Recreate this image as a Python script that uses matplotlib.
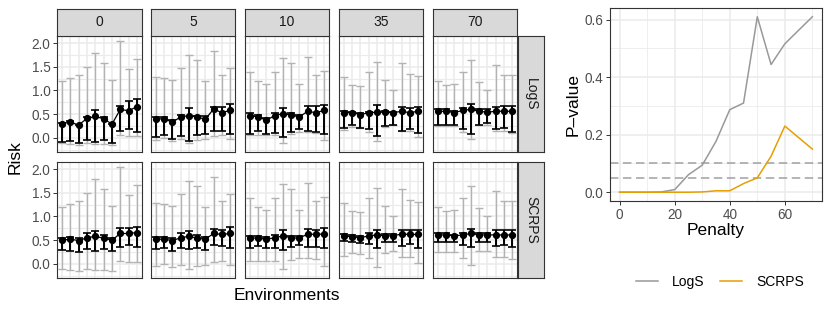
import numpy as np
import matplotlib
matplotlib.use("Agg")
import matplotlib.pyplot as plt
from matplotlib.lines import Line2D

plt.rcParams['font.family'] = ['Liberation Sans', 'DejaVu Sans']

# --- data ---
penalties = ["0", "5", "10", "35", "70"]
scores = ["LogS", "SCRPS"]
envs = np.arange(1, 11)

# LogS row: risk estimate and interval per penalty (10 environments each)
logs_mid = [
    [0.30, 0.33, 0.27, 0.41, 0.45, 0.40, 0.29, 0.60, 0.57, 0.66],
    [0.40, 0.40, 0.33, 0.44, 0.47, 0.44, 0.39, 0.61, 0.53, 0.58],
    [0.47, 0.44, 0.37, 0.47, 0.51, 0.48, 0.44, 0.56, 0.53, 0.58],
    [0.53, 0.53, 0.49, 0.53, 0.54, 0.54, 0.53, 0.56, 0.53, 0.56],
    [0.56, 0.56, 0.53, 0.58, 0.60, 0.56, 0.54, 0.56, 0.56, 0.56],
]
logs_hi = [
    [0.32, 0.35, 0.28, 0.44, 0.58, 0.44, 0.30, 0.68, 0.77, 0.82],
    [0.44, 0.44, 0.37, 0.49, 0.63, 0.47, 0.46, 0.65, 0.65, 0.72],
    [0.53, 0.49, 0.42, 0.53, 0.63, 0.53, 0.49, 0.67, 0.68, 0.70],
    [0.56, 0.54, 0.53, 0.54, 0.70, 0.56, 0.54, 0.65, 0.63, 0.65],
    [0.60, 0.60, 0.56, 0.63, 0.72, 0.60, 0.60, 0.65, 0.68, 0.67],
]
logs_lo = [
    [-0.08, -0.07, -0.12, -0.04, -0.08, -0.05, -0.11, 0.15, 0.18, 0.12],
    [0.01, 0.05, -0.02, 0.04, -0.06, 0.05, 0.07, 0.14, 0.14, 0.07],
    [0.07, 0.14, 0.07, 0.11, 0.02, 0.12, 0.18, 0.14, 0.12, 0.07],
    [0.21, 0.26, 0.21, 0.19, 0.04, 0.25, 0.28, 0.15, 0.18, 0.11],
    [0.26, 0.28, 0.26, 0.18, 0.07, 0.26, 0.32, 0.19, 0.21, 0.12],
]

# SCRPS row
scrps_mid = [
    [0.50, 0.52, 0.49, 0.55, 0.58, 0.54, 0.50, 0.64, 0.64, 0.66],
    [0.52, 0.52, 0.49, 0.55, 0.58, 0.54, 0.52, 0.64, 0.62, 0.64],
    [0.55, 0.54, 0.52, 0.55, 0.59, 0.55, 0.54, 0.63, 0.62, 0.63],
    [0.59, 0.57, 0.55, 0.59, 0.61, 0.59, 0.59, 0.63, 0.62, 0.62],
    [0.61, 0.61, 0.59, 0.61, 0.64, 0.61, 0.61, 0.61, 0.61, 0.61],
]
scrps_hi = [
    [0.54, 0.56, 0.54, 0.64, 0.69, 0.61, 0.54, 0.75, 0.76, 0.78],
    [0.56, 0.56, 0.54, 0.64, 0.70, 0.61, 0.56, 0.73, 0.72, 0.78],
    [0.59, 0.59, 0.56, 0.61, 0.71, 0.59, 0.59, 0.73, 0.71, 0.76],
    [0.63, 0.61, 0.59, 0.64, 0.72, 0.62, 0.62, 0.71, 0.71, 0.71],
    [0.64, 0.64, 0.61, 0.64, 0.73, 0.64, 0.66, 0.71, 0.71, 0.71],
]
scrps_lo = [
    [0.29, 0.28, 0.24, 0.31, 0.28, 0.31, 0.26, 0.36, 0.40, 0.36],
    [0.31, 0.33, 0.28, 0.33, 0.31, 0.33, 0.29, 0.40, 0.38, 0.33],
    [0.33, 0.38, 0.33, 0.34, 0.29, 0.35, 0.40, 0.36, 0.36, 0.34],
    [0.49, 0.47, 0.43, 0.41, 0.34, 0.45, 0.47, 0.38, 0.41, 0.34],
    [0.45, 0.45, 0.45, 0.40, 0.35, 0.45, 0.47, 0.38, 0.40, 0.35],
]

# wide grey interval (same in both rows)
wide_hi = [
    [1.21, 1.26, 1.33, 1.49, 1.80, 1.59, 1.23, 2.05, 1.46, 1.66],
    [1.29, 1.26, 1.22, 1.47, 1.75, 1.65, 1.20, 1.84, 1.33, 1.47],
    [1.39, 1.21, 1.14, 1.40, 1.68, 1.58, 1.14, 1.70, 1.32, 1.42],
    [1.28, 1.12, 1.09, 1.39, 1.61, 1.23, 1.02, 1.58, 1.35, 1.30],
    [1.21, 1.12, 1.14, 1.39, 1.65, 1.17, 1.02, 1.53, 1.33, 1.32],
]
wide_lo = [
    [-0.12, -0.14, -0.16, -0.11, -0.14, -0.13, -0.16, 0.05, 0.04, 0.03],
    [-0.05, 0.00, -0.06, -0.02, -0.10, -0.05, -0.02, 0.04, 0.05, -0.02],
    [0.05, 0.05, 0.05, 0.05, -0.12, 0.09, 0.12, 0.12, 0.11, -0.04],
    [0.16, 0.23, 0.21, 0.12, -0.07, 0.23, 0.26, 0.15, 0.15, 0.01],
    [0.25, 0.25, 0.25, 0.12, -0.02, 0.26, 0.26, 0.15, 0.14, 0.11],
]

# p-value vs penalty
penalty = [0, 5, 10, 15, 20, 25, 30, 35, 40, 45, 50, 55, 60, 65, 70]
pval_logs = [0, 0, 0, 0.001, 0.009, 0.061, 0.094, 0.177, 0.287, 0.31, 0.61, 0.444, 0.516, 0.563, 0.61]
pval_scrps = [0, 0, 0, 0, 0, 0, 0.001, 0.005, 0.005, 0.03, 0.05, 0.125, 0.23, 0.19, 0.15]

W, H = 830, 312
fig = plt.figure(figsize=(W / 100, H / 100), dpi=100)


def px_axes(x0, y0, x1, y1):
    return fig.add_axes([x0 / W, 1 - y1 / H, (x1 - x0) / W, (y1 - y0) / H])


GRID = "#EBEBEB"
BORDER = "#333333"
TICK_COL = "#4D4D4D"
STRIP_FILL = "#D9D9D9"
TICK_FS = 9.8
STRIP_FS = 10
TITLE_FS = 12.5


def style_panel(ax):
    for s in ax.spines.values():
        s.set_color(BORDER)
        s.set_linewidth(0.8)
    ax.set_axisbelow(True)
    ax.tick_params(colors=BORDER, labelcolor=TICK_COL, labelsize=TICK_FS, length=2.7, width=0.7, pad=2)


col_x = [(57, 142), (151, 235), (245, 329), (339, 423), (433, 517)]
row_y = [(36, 152), (162, 278)]
rows = [(logs_mid, logs_lo, logs_hi), (scrps_mid, scrps_lo, scrps_hi)]

for r, (mid, lo, hi) in enumerate(rows):
    for c in range(len(penalties)):
        ax = px_axes(col_x[c][0], row_y[r][0], col_x[c][1], row_y[r][1])
        style_panel(ax)
        ax.set_xlim(0.4, 10.6)
        ax.set_ylim(-0.3, 2.15)
        ax.set_yticks([0, 0.5, 1.0, 1.5, 2.0])
        ax.set_yticks([-0.25, 0.25, 0.75, 1.25, 1.75], minor=True)
        ax.set_xticks(envs)
        ax.grid(which="major", color=GRID, linewidth=1.1)
        ax.grid(which="minor", axis="y", color=GRID, linewidth=0.8)
        ax.tick_params(axis="x", which="both", length=0, labelbottom=False)
        ax.tick_params(axis="y", which="minor", length=0)
        if c == 0:
            ax.set_yticklabels(["0.0", "0.5", "1.0", "1.5", "2.0"])
        else:
            ax.tick_params(axis="y", length=0, labelleft=False)

        wl = np.array(wide_lo[c]); wh = np.array(wide_hi[c])
        m = np.array(mid[c]); l = np.array(lo[c]); h = np.array(hi[c])
        wc = (wl + wh) / 2
        ax.errorbar(envs, wc, yerr=[wc - wl, wh - wc], fmt="none", ecolor="#B3B3B3",
                    elinewidth=1.0, capsize=3.2, capthick=1.0, zorder=2)
        ax.plot(envs, m, color="black", linewidth=0.9, zorder=3)
        ax.errorbar(envs, m, yerr=[m - l, h - m], fmt="o", color="black", ecolor="black",
                    markersize=4.2, elinewidth=1.4, capsize=3.2, capthick=1.2, zorder=4)

        if r == 0:
            sax = px_axes(col_x[c][0], 9, col_x[c][1], 36)
            sax.set_facecolor(STRIP_FILL)
            sax.set_xticks([]); sax.set_yticks([])
            for s in sax.spines.values():
                s.set_color(BORDER); s.set_linewidth(0.8)
            sax.text(0.5, 0.5, penalties[c], ha="center", va="center", fontsize=STRIP_FS,
                     color="#1A1A1A", transform=sax.transAxes)
        if c == len(penalties) - 1:
            sax = px_axes(518, row_y[r][0], 544, row_y[r][1])
            sax.set_facecolor(STRIP_FILL)
            sax.set_xticks([]); sax.set_yticks([])
            for s in sax.spines.values():
                s.set_color(BORDER); s.set_linewidth(0.8)
            sax.text(0.5, 0.5, scores[r], ha="center", va="center", fontsize=STRIP_FS,
                     rotation=-90, color="#1A1A1A", transform=sax.transAxes)

fig.text(15 / W, 1 - 157 / H, "Risk", rotation=90, ha="center", va="center", fontsize=TITLE_FS)
fig.text(287 / W, 1 - 295 / H, "Environments", ha="center", va="center", fontsize=TITLE_FS)

# --- p-value panel ---
ax = px_axes(610, 8, 822, 201)
style_panel(ax)
ax.set_xlim(-3.5, 73.5)
ax.set_ylim(-0.0305, 0.6405)
ax.set_xticks([0, 20, 40, 60])
ax.set_xticks([10, 30, 50, 70], minor=True)
ax.set_yticks([0, 0.2, 0.4, 0.6])
ax.set_yticks([0.1, 0.3, 0.5], minor=True)
ax.set_yticklabels(["0.0", "0.2", "0.4", "0.6"])
ax.tick_params(which="minor", length=0)
ax.grid(which="major", color=GRID, linewidth=1.1)
ax.grid(which="minor", color=GRID, linewidth=0.6)
ax.axhline(0.05, color="#A0A0A0", linestyle=(0, (5.5, 3)), linewidth=1.1, zorder=2)
ax.axhline(0.10, color="#A0A0A0", linestyle=(0, (5.5, 3)), linewidth=1.1, zorder=2)
ax.plot(penalty, pval_logs, color="#999999", linewidth=1.1, zorder=3)
ax.plot(penalty, pval_scrps, color="#E69F00", linewidth=1.1, zorder=3)
ax.set_xlabel("Penalty", fontsize=TITLE_FS, labelpad=1)
ax.set_ylabel("P\u2013value", fontsize=TITLE_FS, labelpad=3)

handles = [Line2D([], [], color="#999999", linewidth=1.1),
           Line2D([], [], color="#E69F00", linewidth=1.1)]
fig.legend(handles, ["LogS", "SCRPS"], loc="center", bbox_to_anchor=(720 / W, 1 - 282 / H),
           ncol=2, frameon=False, fontsize=10, handlelength=1.6, columnspacing=1.1,
           handletextpad=1.0)

fig.savefig("out.png", dpi=100)
